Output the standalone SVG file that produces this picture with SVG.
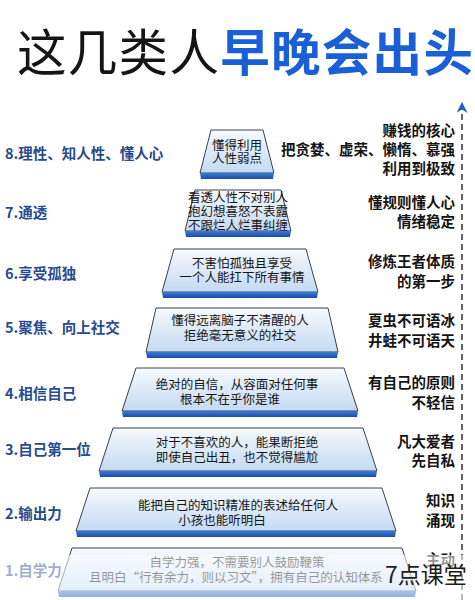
<svg xmlns="http://www.w3.org/2000/svg" width="475" height="600" viewBox="0 0 475 600">
<defs>
<linearGradient id="face" x1="0" y1="0" x2="0" y2="1">
<stop offset="0" stop-color="#fbfdff"/>
<stop offset="0.15" stop-color="#eef4fb"/>
<stop offset="1" stop-color="#c3daf3"/>
</linearGradient>
<linearGradient id="strip" x1="0" y1="0" x2="0" y2="1">
<stop offset="0" stop-color="#3a7ad8"/>
<stop offset="1" stop-color="#1b4ea6"/>
</linearGradient>
<marker id="arr" viewBox="0 0 10 10" refX="9" refY="5" markerWidth="11" markerHeight="11" orient="auto" markerUnits="userSpaceOnUse">
<path d="M0,0 L10,5 L0,10 L3,5 Z" fill="#1f5fc4"/>
</marker>
</defs>
<style>
text{font-family:"Noto Sans CJK SC","Noto Sans",sans-serif;}
.face{fill:url(#face);stroke:#3a404a;stroke-width:1;}
.strip{fill:url(#strip);}
.in{font-size:12.5px;fill:#151515;text-anchor:middle;}
.lab{font-size:14.5px;font-weight:bold;fill:#284a8e;}
.rt{font-size:14.5px;font-weight:bold;fill:#141414;text-anchor:end;}
</style>
<rect width="475" height="600" fill="#ffffff"/>
<g id="title">
<text x="17" y="71" font-size="49.5" letter-spacing="1.3" fill="#151515">这几类人<tspan font-weight="bold" fill="#1a5fd6">早晚会出头</tspan></text>
</g>
<g id="connectors">
<line x1="462" y1="600" x2="462" y2="103" stroke="#3c3c3c" stroke-width="1.6" stroke-dasharray="6 4" marker-end="url(#arr)"/>
</g>
<g id="level8">
<polygon class="face" points="211,130 263,130 274,173 200,173"/>
<polygon class="strip" points="200,173 274,173 273,179 201,179"/>
<text class="in" x="237" y="149.5" font-size="12">懂得利用</text>
<text class="in" x="237" y="163" font-size="12">人性弱点</text>
<text class="lab" x="5" y="159">8.理性、知人性、懂人心</text>
<text class="rt" x="455" y="136">赚钱的核心</text>
<text class="rt" x="455" y="155">把贪婪、虚荣、懒惰、慕强</text>
<text class="rt" x="455" y="174">利用到极致</text>
</g>
<g id="level7">
<polygon class="face" points="195,190 281,190 291,231 185,231"/>
<polygon class="strip" points="185,231 291,231 290,237 186,237"/>
<text class="in" x="238" y="201.5" font-size="11.3">看透人性不对别人</text>
<text class="in" x="238" y="215.5" font-size="11.3">抱幻想喜怒不表露</text>
<text class="in" x="238" y="229.5" font-size="11.3">不跟烂人烂事纠缠</text>
<text class="lab" x="5" y="218">7.通透</text>
<text class="rt" x="455" y="208">懂规则懂人心</text>
<text class="rt" x="455" y="227">情绪稳定</text>
</g>
<g id="level6">
<polygon class="face" points="174,249 306,249 318,292 162,292"/>
<polygon class="strip" points="162,292 318,292 317,298 163,298"/>
<text class="in" x="242" y="267.5">不害怕孤独且享受</text>
<text class="in" x="242" y="282">一个人能扛下所有事情</text>
<text class="lab" x="5" y="279">6.享受孤独</text>
<text class="rt" x="455" y="267">修炼王者体质</text>
<text class="rt" x="455" y="287">的第一步</text>
</g>
<g id="level5">
<polygon class="face" points="156,308 328,308 338,352 146,352"/>
<polygon class="strip" points="146,352 338,352 337,358 147,358"/>
<text class="in" x="240" y="325">懂得远离脑子不清醒的人</text>
<text class="in" x="240" y="339.5">拒绝毫无意义的社交</text>
<text class="lab" x="5" y="333">5.聚焦、向上社交</text>
<text class="rt" x="455" y="326">夏虫不可语冰</text>
<text class="rt" x="455" y="346">井蛙不可语天</text>
</g>
<g id="level4">
<polygon class="face" points="136,368 344,368 358,411 122,411"/>
<polygon class="strip" points="122,411 358,411 357,417 123,417"/>
<text class="in" x="237" y="389">绝对的自信，从容面对任何事</text>
<text class="in" x="230" y="403.5">根本不在乎你是谁</text>
<text class="lab" x="5" y="399">4.相信自己</text>
<text class="rt" x="455" y="388">有自己的原则</text>
<text class="rt" x="455" y="408">不轻信</text>
</g>
<g id="level3">
<polygon class="face" points="113,428 363,428 377,471 99,471"/>
<polygon class="strip" points="99,471 377,471 376,477 100,477"/>
<text class="in" x="237" y="447">对于不喜欢的人，能果断拒绝</text>
<text class="in" x="237" y="461.5">即使自己出丑，也不觉得尴尬</text>
<text class="lab" x="5" y="455">3.自己第一位</text>
<text class="rt" x="455" y="447">凡大爱者</text>
<text class="rt" x="455" y="466">先自私</text>
</g>
<g id="level2">
<polygon class="face" points="90,488 382,488 396,531 76,531"/>
<polygon class="strip" points="76,531 396,531 395,537 77,537"/>
<text class="in" x="238" y="510" font-size="13">能把自己的知识精准的表述给任何人</text>
<text class="in" x="222" y="524.5" font-size="13">小孩也能听明白</text>
<text class="lab" x="5" y="519">2.输出力</text>
<text class="rt" x="455" y="506">知识</text>
<text class="rt" x="455" y="526">涌现</text>
</g>
<g id="level1">
<polygon class="face" points="72,548 402,548 416,591 58,591"/>
<polygon class="strip" points="58,591 416,591 415,597 59,597"/>
<text class="in" x="237" y="567" font-size="13">自学力强，不需要别人鼓励鞭策</text>
<text class="in" x="236" y="581.5" font-size="13">且明白“行有余力，则以习文”，拥有自己的认知体系</text>
<text class="lab" x="5" y="576">1.自学力</text>
<text class="rt" x="455" y="565">主动</text>
</g>
<g id="overlay">
<rect x="0" y="555" width="475" height="45" fill="#ffffff" opacity="0.55"/>
<text x="385" y="583" font-size="23" fill="#1c1c1c">7点课堂</text>
</g>
</svg>
